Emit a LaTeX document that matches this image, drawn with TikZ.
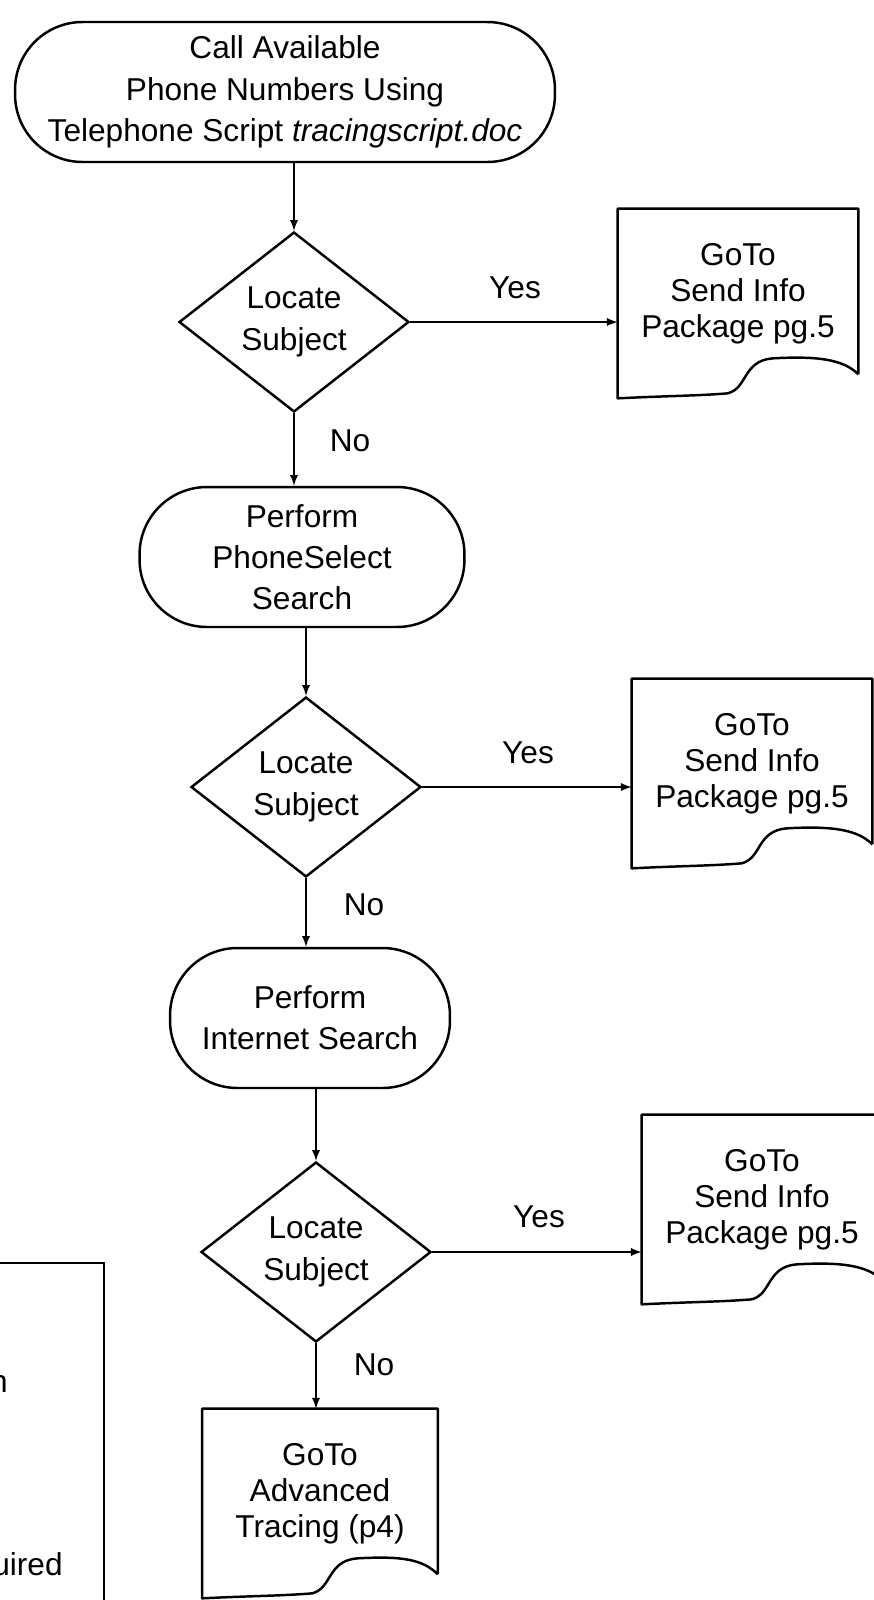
\documentclass[tikz,border=0pt]{standalone}
\usepackage{fontspec}
\setmainfont{Liberation Sans}
\usetikzlibrary{shapes.geometric}
\tikzset{
    term-box/.style = {draw, rectangle, rounded corners=1.35cm, line width=1.4pt, align=center, minimum height=2.8cm},
    decision-box/.style = {draw, diamond, line width=1.4pt, align=center, minimum width=4.6cm, minimum height=3.6cm, inner sep=0pt},
    doc-box/.style = {rectangle, align=center, minimum width=4.8cm, minimum height=3.4cm, inner sep=0pt, font=\fontsize{18}{20.5}\selectfont},
    doc-line/.style = {line width=1.4pt, line join=round},
    flow-line/.style = {line width=1.1pt, -latex},
}
% document shape with a wavy bottom edge
\newcommand{\docwave}[1]{
    \draw[doc-line] ([yshift=0.1cm]#1.south east) -- (#1.north east) -- (#1.north west) -- ([yshift=-0.38cm]#1.south west)
        .. controls +(1.0cm,0.05cm) and +(-0.6cm,-0.05cm) .. ([shift={(2.2cm,-0.28cm)}]#1.south west)
        .. controls +(0.4cm,0.1cm) and +(-0.6cm,-0.05cm) .. ([shift={(3.1cm,0.42cm)}]#1.south west)
        .. controls +(0.9cm,0.05cm) and +(-0.3cm,0.3cm) .. ([yshift=0.1cm]#1.south east);
}

\begin{document}
\begin{tikzpicture}[x=0.02cm, y=-0.02cm, every node/.style={font=\fontsize{18}{23.5}\selectfont}]
\useasboundingbox (0,0) rectangle (874,1600);

\node[term-box, minimum width=10.8cm] (start) at (285,92) {Call Available\\Phone Numbers Using\\Telephone Script \textit{tracingscript.doc}};

\node[decision-box] (locate-a) at (294,322) {Locate\\Subject};
\node[doc-box] (send-a) at (738,294) {GoTo\\Send Info\\Package pg.5};
\docwave{send-a}

\node[term-box, minimum width=6.5cm] (phone) at (302,557) {Perform\\PhoneSelect\\Search};

\node[decision-box] (locate-b) at (306,787) {Locate\\Subject};
\node[doc-box] (send-b) at (752,764) {GoTo\\Send Info\\Package pg.5};
\docwave{send-b}

\node[term-box, minimum width=5.6cm] (internet) at (310,1018) {Perform\\Internet Search};

\node[decision-box] (locate-c) at (316,1252) {Locate\\Subject};
\node[doc-box] (send-c) at (762,1200) {GoTo\\Send Info\\Package pg.5};
\docwave{send-c}

\node[doc-box, minimum width=4.7cm] (advanced) at (320,1494) {GoTo\\Advanced\\Tracing (p4)};
\docwave{advanced}

% legend box, cut off at the page edge
\node[draw, line width=1.4pt, minimum width=4cm, minimum height=8cm, anchor=north east] (legend) at (105,1262) {};
\node[anchor=base east, inner sep=0pt] (legend-a) at (8,1392) {n};
\node[anchor=base east, inner sep=0pt] (legend-b) at (63,1575) {uired};

% connectors
\draw[flow-line] (start.south -| locate-a.north) -- (locate-a.north);
\draw[flow-line] (locate-a.east) -- (locate-a.east -| send-a.west);
\draw[flow-line] (locate-a.south) -- (locate-a.south |- phone.north);
\draw[flow-line] (phone.south -| locate-b.north) -- (locate-b.north);
\draw[flow-line] (locate-b.east) -- (locate-b.east -| send-b.west);
\draw[flow-line] (locate-b.south) -- (locate-b.south |- internet.north);
\draw[flow-line] (internet.south -| locate-c.north) -- (locate-c.north);
\draw[flow-line] (locate-c.east) -- (locate-c.east -| send-c.west);
\draw[flow-line] (locate-c.south) -- (locate-c.south |- advanced.north);

\node (yes-a) at (515,288) {Yes};
\node (no-a) at (350,441) {No};
\node (yes-b) at (528,753) {Yes};
\node (no-b) at (364,905) {No};
\node (yes-c) at (539,1217) {Yes};
\node (no-c) at (374,1365) {No};
\end{tikzpicture}
\end{document}
